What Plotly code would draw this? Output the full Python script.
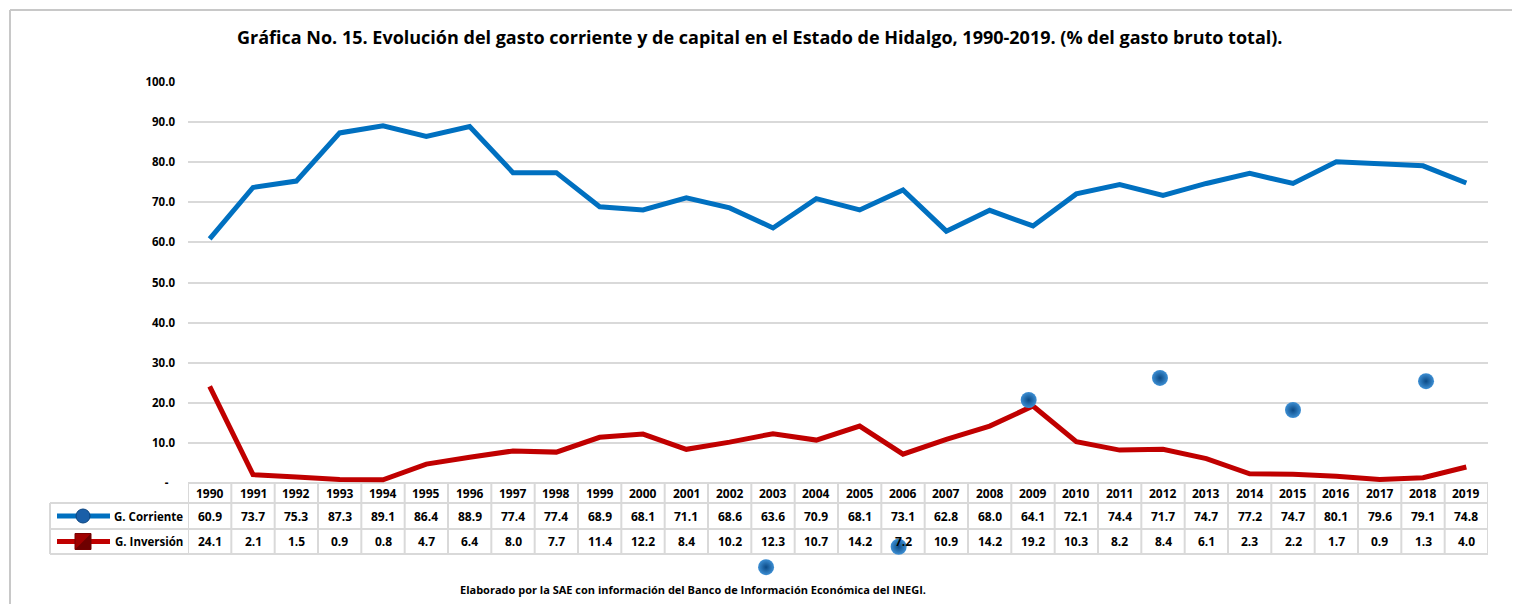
import plotly.graph_objects as go

years = list(range(1990, 2020))
corriente = [60.9, 73.7, 75.3, 87.3, 89.1, 86.4, 88.9, 77.4, 77.4, 68.9, 68.1, 71.1, 68.6, 63.6, 70.9,
             68.1, 73.1, 62.8, 68.0, 64.1, 72.1, 74.4, 71.7, 74.7, 77.2, 74.7, 80.1, 79.6, 79.1, 74.8]
inversion = [24.1, 2.1, 1.5, 0.9, 0.8, 4.7, 6.4, 8.0, 7.7, 11.4, 12.2, 8.4, 10.2, 12.3, 10.7,
             14.2, 7.2, 10.9, 14.2, 19.2, 10.3, 8.2, 8.4, 6.1, 2.3, 2.2, 1.7, 0.9, 1.3, 4.0]
series_names = ["G. Corriente", "G. Inversión"]
y_ticks = [0, 10, 20, 30, 40, 50, 60, 70, 80, 90, 100]
y_ticktext = ["-\u2007", "10.0", "20.0", "30.0", "40.0", "50.0", "60.0", "70.0", "80.0", "90.0", "100.0"]
# stray marker artifacts visible in the source picture
stray_x = [2008.9, 2011.93, 2015.0, 2018.07, 2005.9, 2002.84]
stray_y = [20.7, 26.2, 18.2, 25.4, -15.9, -21.0]

title = "Gráfica No. 15. Evolución del gasto corriente y de capital en el Estado de\u00a0Hidalgo, 1990-2019. (% del gasto bruto total)."
footer = "Elaborado por la SAE con información del Banco de Información Económica del INEGI."

BLUE = "#0070c0"
RED = "#c00000"
GRID = "#d9d9d9"
FONT = "Open Sans, Lato, sans-serif"

OFF = 8  # default page body margin
W, H = 1520 - OFF, 605 - OFF
L, R, T = 188, 1488, 82          # page pixels
ZERO = 483                        # page pixel of value 0
PX_PER_UNIT = (ZERO - T) / 100.0
Y_MIN = -(605 - ZERO) / PX_PER_UNIT   # plot area extends down to the page bottom


def pxx(px):
    return (px - L) / (R - L)


def pxy(py):
    return (605 - py) / (605 - T)


fig = go.Figure()
fig.add_trace(go.Scatter(x=years, y=corriente, mode="lines", name=series_names[0],
                         line=dict(color=BLUE, width=5), showlegend=False))
fig.add_trace(go.Scatter(x=years, y=inversion, mode="lines", name=series_names[1],
                         line=dict(color=RED, width=5), showlegend=False))
fig.add_trace(go.Scatter(x=stray_x, y=stray_y, mode="markers", showlegend=False,
                         marker=dict(size=16, color="#3d8fd4",
                                     gradient=dict(type="radial", color="#0b4a86"),
                                     line=dict(width=0)), hoverinfo="skip"))

shapes = []
annotations = []

row_top = [483, 503, 529, 554]
line_style = dict(color=GRID, width=2)

shapes.append(dict(type="line", xref="paper", yref="paper", x0=0, x1=1, y0=pxy(row_top[0]), y1=pxy(row_top[0]),
                   line=line_style, layer="below"))
for ry in row_top[1:]:
    shapes.append(dict(type="line", xref="paper", yref="paper", x0=pxx(50), x1=1, y0=pxy(ry), y1=pxy(ry),
                       line=line_style, layer="below"))
for i in range(len(years) + 1):
    xv = years[0] - 0.5 + i
    shapes.append(dict(type="line", xref="x", yref="paper", x0=xv, x1=xv, y0=pxy(row_top[0]), y1=pxy(row_top[3]),
                       line=line_style, layer="below"))
shapes.append(dict(type="line", xref="paper", yref="paper", x0=pxx(50), x1=pxx(50), y0=pxy(row_top[1]), y1=pxy(row_top[3]),
                   line=line_style, layer="below"))

row_mid = [(row_top[i] + row_top[i + 1]) / 2 for i in range(3)]
cell_font = dict(family=FONT, size=12, color="#000000")
for i, yv in enumerate(years):
    annotations.append(dict(x=yv, y=pxy(row_mid[0]), xref="x", yref="paper", text=f"<b>{yv}</b>",
                            showarrow=False, font=cell_font, xanchor="center", yanchor="middle"))
    annotations.append(dict(x=yv, y=pxy(row_mid[1]), xref="x", yref="paper", text=f"<b>{corriente[i]:.1f}</b>",
                            showarrow=False, font=cell_font, xanchor="center", yanchor="middle"))
    annotations.append(dict(x=yv, y=pxy(row_mid[2]), xref="x", yref="paper", text=f"<b>{inversion[i]:.1f}</b>",
                            showarrow=False, font=cell_font, xanchor="center", yanchor="middle"))

legend_font = dict(family=FONT, size=11.5, color="#000000")
for k, (name, col) in enumerate(zip(series_names, [BLUE, RED])):
    ym = pxy(row_mid[k + 1])
    shapes.append(dict(type="line", xref="paper", yref="paper", x0=pxx(57), x1=pxx(110), y0=ym, y1=ym,
                       line=dict(color=col, width=5)))
    annotations.append(dict(x=pxx(185), y=ym, xref="paper", yref="paper", text=f"<b>{name}</b>",
                            showarrow=False, font=legend_font, xanchor="right", yanchor="middle"))
cy = row_mid[1]
shapes.append(dict(type="circle", xref="paper", yref="paper", x0=pxx(76), x1=pxx(90), y0=pxy(cy + 7), y1=pxy(cy - 7),
                   fillcolor="#1a5fa8", line=dict(color="#0a4580", width=1)))
sy = row_mid[2]
shapes.append(dict(type="rect", xref="paper", yref="paper", x0=pxx(75), x1=pxx(91), y0=pxy(sy + 8), y1=pxy(sy - 8),
                   fillcolor="#a00000", line=dict(color="#7a0000", width=1)))
shapes.append(dict(type="path", xref="paper", yref="paper",
                   path=f"M {pxx(75)},{pxy(sy + 8)} L {pxx(91)},{pxy(sy + 8)} L {pxx(91)},{pxy(sy - 8)} Z",
                   fillcolor="#6e0000", line=dict(width=0)))

# outer chart frame (kept inside the drawable page area)
frame = dict(color="#c8c8c8", width=2)
shapes.append(dict(type="line", xref="paper", yref="paper", x0=pxx(10), x1=pxx(10), y0=pxy(604), y1=pxy(10), line=frame))
shapes.append(dict(type="line", xref="paper", yref="paper", x0=pxx(1514), x1=pxx(1514), y0=pxy(604), y1=pxy(10), line=frame))
shapes.append(dict(type="line", xref="paper", yref="paper", x0=pxx(10), x1=pxx(1514), y0=pxy(10), y1=pxy(10), line=frame))

annotations.append(dict(x=pxx(760), y=pxy(37), xref="paper", yref="paper", text=f"<b>{title}</b>",
                        showarrow=False, font=dict(family=FONT, size=18, color="#000000"),
                        xanchor="center", yanchor="middle"))
annotations.append(dict(x=pxx(693), y=pxy(589), xref="paper", yref="paper", text=f"<b>{footer}</b>",
                        showarrow=False, font=dict(family=FONT, size=11, color="#000000"),
                        xanchor="center", yanchor="middle"))

fig.update_layout(
    width=W, height=H,
    margin=dict(l=L - OFF, r=(W + OFF) - R, t=T - OFF, b=0, pad=0),
    paper_bgcolor="white", plot_bgcolor="rgba(0,0,0,0)",
    font=dict(family=FONT, color="#000000"),
    shapes=shapes, annotations=annotations,
    xaxis=dict(range=[years[0] - 0.5, years[-1] + 0.5], showticklabels=False, showgrid=False,
               zeroline=False, showline=False, ticks=""),
    yaxis=dict(range=[Y_MIN, 100], tickvals=y_ticks, ticktext=[f"<b>{t}</b>" for t in y_ticktext],
               showgrid=True, gridcolor=GRID, gridwidth=2, zeroline=False, showline=False,
               ticks="", ticklabelstandoff=12, tickfont=dict(family=FONT, size=11.5, color="#000000")),
)

fig.write_html("out.html")
